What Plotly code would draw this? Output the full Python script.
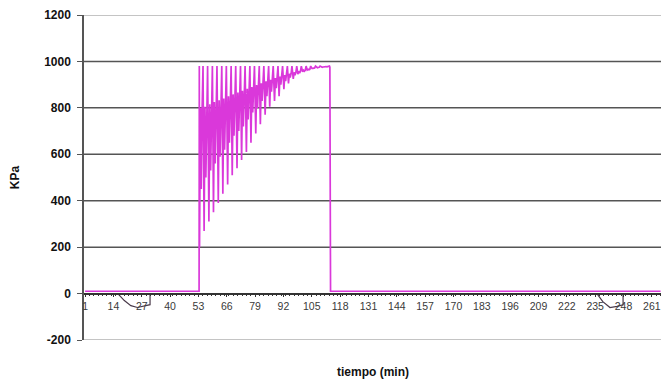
import plotly.graph_objects as go

# ---- data ----
x_tick_labels = [1, 14, 27, 40, 53, 66, 79, 92, 105, 118, 131, 144, 157, 170,
                 183, 196, 209, 222, 235, 248, 261]
y_tick_values = [-200, 0, 200, 400, 600, 800, 1000, 1200]
y_tick_text = ["-200", "0", "200", "400", "600", "800", "1000", "1200"]

# pressure series (time in min, pressure in KPa)
pressure_t = [1, 53.3, 53.4,
              53.5, 53.9, 54.3, 54.7, 55.1,
              55.6, 56.0, 56.4, 56.8, 57.2,
              57.8, 58.2, 58.6, 59.0, 59.4,
              59.9, 60.3, 60.7, 61.1, 61.5,
              62.1, 62.5, 62.9, 63.3, 63.7,
              64.2, 64.6, 65.0, 65.4, 65.8,
              66.4, 66.8, 67.2, 67.6, 68.0,
              68.5, 68.9, 69.3, 69.7, 70.1,
              70.7, 71.1, 71.5, 71.9, 72.3,
              72.8, 73.2, 73.6, 74.0, 74.4,
              75.0, 75.4, 75.8, 76.2, 76.6,
              77.1, 77.5, 77.9, 78.3, 78.7,
              79.3, 79.7, 80.1, 80.5, 80.9,
              81.4, 81.8, 82.2, 82.6, 83.0,
              83.6, 84.0, 84.4, 84.8, 85.2,
              85.7, 86.1, 86.5, 86.9, 87.3,
              87.9, 88.3, 88.7, 89.1, 89.5,
              90.0, 90.4, 90.8, 91.2, 91.6,
              92.2, 92.6, 93.0, 93.4, 93.8,
              94.3, 94.7, 95.1, 95.5, 95.9,
              96.5, 96.9, 97.3, 97.7, 98.1,
              98.6, 99.0, 99.4, 99.8, 100.2,
              100.8, 101.2, 101.6, 102.0, 102.4,
              102.9, 103.3, 103.7, 104.1, 104.5,
              105.1, 105.5, 105.9, 106.3, 106.7,
              107.2, 107.6, 108.0, 108.4, 108.8,
              109.4, 109.8, 110.2, 110.6, 111.0,
              111.5, 111.9, 112.3, 112.7, 113.1,
              113.3, 113.4, 113.6, 265]
pressure_kpa = [10, 10, 980,
                200, 800, 450, 800, 980,
                270, 805, 500, 805, 980,
                310, 815, 530, 815, 980,
                350, 825, 560, 825, 980,
                390, 833, 590, 833, 980,
                430, 840, 620, 840, 980,
                470, 850, 650, 850, 980,
                510, 858, 680, 858, 980,
                540, 866, 700, 866, 980,
                575, 874, 720, 874, 980,
                610, 882, 750, 882, 980,
                650, 890, 780, 890, 980,
                690, 898, 800, 898, 980,
                730, 906, 830, 906, 980,
                770, 914, 850, 914, 980,
                805, 921, 870, 921, 980,
                830, 928, 885, 928, 980,
                850, 935, 900, 935, 980,
                880, 941, 915, 941, 980,
                905, 947, 930, 947, 980,
                925, 953, 940, 953, 980,
                945, 958, 950, 958, 980,
                955, 962, 958, 962, 980,
                963, 966, 964, 966, 980,
                970, 970, 970, 972, 980,
                974, 973, 974, 975, 980,
                976, 975, 976, 977, 980,
                978, 977, 978, 978, 980,
                975, 150, 10, 10]

# second (dark) series, mostly zero with two dips
dark_t = [1, 16, 19, 22, 25, 28, 30.8, 30.8, 235.8, 238.5, 241.8, 245, 247.8, 247.8, 265]
dark_kpa = [0, 0, -30, -52, -60, -55, -48, 0, 0, -35, -60, -55, -48, 0, 0]

fig = go.Figure()
fig.add_trace(go.Scatter(x=dark_t, y=dark_kpa, mode="lines",
                         line=dict(color="#4a3a4a", width=1.2), showlegend=False))
fig.add_trace(go.Scatter(x=pressure_t, y=pressure_kpa, mode="lines",
                         line=dict(color="#DA38DA", width=1.7), showlegend=False))

shapes = []
for v in y_tick_values:
    if v == 0:
        continue
    edge = v in (-200, 1200)
    shapes.append(dict(type="line", xref="paper", x0=0, x1=1, yref="y", y0=v, y1=v,
                       line=dict(color="#b0b0b0" if edge else "#555555", width=1.5),
                       layer="below"))

fig.update_layout(
    width=661, height=381,
    margin=dict(l=84, r=0, t=15, b=41, autoexpand=False),
    paper_bgcolor="white", plot_bgcolor="white",
    shapes=shapes,
    xaxis=dict(range=[0.5, 265.2], tickmode="array", tickvals=x_tick_labels,
               ticktext=[str(v) for v in x_tick_labels],
               showgrid=False, zeroline=False, automargin=False,
               showline=True, linecolor="#333333", linewidth=1.5,
               anchor="free", position=200 / 1400,
               ticks="outside", ticklen=3, tickcolor="#333333",
               minor=dict(dtick=2, tick0=1, ticks="outside", ticklen=2, tickcolor="#333333"),
               tickfont=dict(family="Liberation Sans", size=10.5, color="#3a3a3a")),
    yaxis=dict(range=[-200, 1200], tickmode="array", tickvals=y_tick_values,
               ticktext=y_tick_text,
               showgrid=False, zeroline=False, automargin=False,
               showline=True, linecolor="#555555", linewidth=1.5,
               ticks="outside", ticklen=5, tickcolor="#555555",
               tickfont=dict(family="Liberation Sans", size=12, color="#111111",
                             weight="bold"),
               ticklabelstandoff=4),
    annotations=[
        dict(text="<b>KPa</b>", xref="paper", yref="paper", x=-0.12, y=0.5,
             xanchor="center", yanchor="middle",
             textangle=-90, showarrow=False,
             font=dict(family="Liberation Sans", size=12, color="#111111")),
        dict(text="<b>tiempo (min)</b>", xref="paper", yref="paper", x=0.5, y=-0.098,
             xanchor="center", yanchor="middle",
             showarrow=False,
             font=dict(family="Liberation Sans", size=12, color="#111111")),
    ],
)

fig.write_html("out.html", config={"displayModeBar": False},
               post_script="document.body.style.margin='0';document.body.style.overflow='hidden';")
